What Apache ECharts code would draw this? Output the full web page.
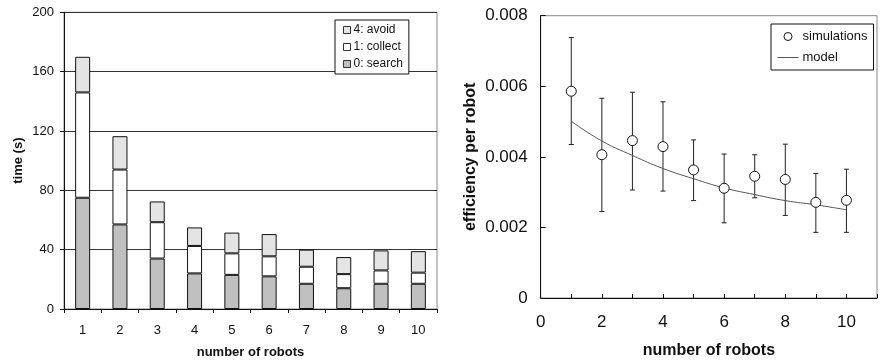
<!DOCTYPE html>
<html><head><meta charset="utf-8">
<script src="https://cdn.jsdelivr.net/npm/echarts@6/dist/echarts.min.js"></script>
<style>html,body{margin:0;padding:0;background:#fff}#c{width:880px;height:364px}</style>
</head><body><div id="c"></div>
<script>
// Left chart: stacked time per behaviour
const robots = ['1','2','3','4','5','6','7','8','9','10'];
const searchT = [75, 57, 34, 24, 23, 22, 17, 14, 17, 17];
const collectT = [71, 37, 24.5, 18.5, 14.5, 13.5, 11.5, 9.5, 9, 7.5];
const avoidT = [24, 22.5, 14, 12.5, 14, 15, 11.5, 11.5, 13.5, 14.5];
const leftTicks = [0, 40, 80, 120, 160, 200];

// Right chart: efficiency per robot
const simX = [1, 2, 3, 4, 5, 6, 7, 8, 9, 10];
const simMean = [0.00586, 0.00406, 0.00446, 0.00429, 0.00363, 0.00311, 0.00345, 0.00336, 0.00271, 0.00277];
const simLow = [0.00435, 0.00245, 0.00306, 0.00303, 0.00276, 0.00213, 0.00284, 0.00234, 0.00186, 0.00186];
const simHigh = [0.00738, 0.00566, 0.00583, 0.00556, 0.00448, 0.00408, 0.00406, 0.00436, 0.00353, 0.00365];
const modelVals = [0.00501, 0.00445, 0.00404, 0.00367, 0.00338, 0.00312, 0.00293, 0.00276, 0.00264, 0.00250];

const FONT = 'Liberation Sans, Arial, sans-serif';
const chart = echarts.init(document.getElementById('c'));
const barBorder = {borderColor: '#111', borderWidth: 1};

chart.setOption({
  animation: false,
  textStyle: {fontFamily: FONT},
  grid: [
    {left: 64, top: 12.3, width: 373, height: 297, show: true, borderColor: '#888', borderWidth: 1},
    {left: 540.7, top: 15.7, width: 344.6, height: 283.6, show: true, borderColor: '#888', borderWidth: 1}
  ],
  legend: [
    {
      data: [{name: '4: avoid'}, {name: '1: collect'}, {name: '0: search'}],
      icon: 'rect',
      orient: 'vertical', left: 335, top: 20,
      itemWidth: 7, itemHeight: 7, itemGap: 3,
      padding: [3, 6, 3, 8],
      backgroundColor: '#fff', borderColor: '#111', borderWidth: 1,
      itemStyle: {borderColor: '#333', borderWidth: 1},
      textStyle: {fontFamily: FONT, fontSize: 12, color: '#111', padding: [0, 0, 0, -2], lineHeight: 14}
    },
    {
      data: [
        {name: 'simulations', icon: 'circle', itemStyle: {color: '#fff', borderColor: '#111', borderWidth: 1}},
        {name: 'model', itemStyle: {opacity: 0}, lineStyle: {color: '#555', width: 1}}
      ],
      orient: 'vertical', left: 771, top: 24,
      itemWidth: 21, itemHeight: 8, itemGap: 6,
      padding: [5, 6, 5, 6],
      backgroundColor: '#fff', borderColor: '#111', borderWidth: 1,
      textStyle: {fontFamily: FONT, fontSize: 13, color: '#111', padding: [0, 0, 0, -1], lineHeight: 15}
    }
  ],
  xAxis: [
    {
      gridIndex: 0, type: 'category', data: robots, boundaryGap: true,
      axisLine: {lineStyle: {color: '#111', width: 1}},
      axisTick: {show: true, length: 4, interval: 0, lineStyle: {color: '#111'}},
      axisLabel: {fontSize: 13, color: '#111', margin: 15, fontFamily: FONT},
      name: 'number of robots', nameLocation: 'middle', nameGap: 37,
      nameTextStyle: {fontSize: 13, fontWeight: 'bold', color: '#111', fontFamily: FONT}
    },
    {
      gridIndex: 1, type: 'value', min: 0, max: 11, interval: 1,
      axisLine: {lineStyle: {color: '#111', width: 1}},
      axisTick: {show: true, inside: true, length: 4, lineStyle: {color: '#111'}},
      splitLine: {show: false},
      axisLabel: {fontSize: 17, color: '#111', margin: 16, fontFamily: FONT,
        formatter: v => (v % 2 === 0 && v <= 10) ? String(v) : ''},
      name: 'number of robots', nameLocation: 'middle', nameGap: 45,
      nameTextStyle: {fontSize: 16, fontWeight: 'bold', color: '#111', fontFamily: FONT}
    }
  ],
  yAxis: [
    {
      gridIndex: 0, type: 'value', min: leftTicks[0], max: leftTicks[leftTicks.length - 1], interval: 40,
      axisLine: {show: true, lineStyle: {color: '#111', width: 1}},
      axisTick: {show: true, length: 4, lineStyle: {color: '#111'}},
      splitLine: {show: true, lineStyle: {color: '#333', width: 1}},
      axisLabel: {fontSize: 13, color: '#111', margin: 10, fontFamily: FONT},
      name: 'time (s)', nameLocation: 'middle', nameGap: 39,
      nameTextStyle: {fontSize: 13, fontWeight: 'bold', color: '#111', fontFamily: FONT}
    },
    {
      gridIndex: 1, type: 'value', min: 0, max: 0.008, interval: 0.002,
      axisLine: {show: true, lineStyle: {color: '#111', width: 1}},
      axisTick: {show: true, inside: true, length: 5, lineStyle: {color: '#111'}},
      splitLine: {show: false},
      axisLabel: {fontSize: 17, color: '#111', margin: 13, fontFamily: FONT,
        formatter: v => v === 0 ? '0' : v.toFixed(3)},
      name: 'efficiency per robot', nameLocation: 'middle', nameGap: 62,
      nameTextStyle: {fontSize: 16, fontWeight: 'bold', color: '#111', fontFamily: FONT}
    }
  ],
  series: [
    {name: '0: search', type: 'bar', stack: 't', xAxisIndex: 0, yAxisIndex: 0, barWidth: 15,
      data: searchT, itemStyle: Object.assign({color: '#c0c0c0'}, barBorder)},
    {name: '1: collect', type: 'bar', stack: 't', xAxisIndex: 0, yAxisIndex: 0, barWidth: 15,
      data: collectT, itemStyle: Object.assign({color: '#ffffff'}, barBorder)},
    {name: '4: avoid', type: 'bar', stack: 't', xAxisIndex: 0, yAxisIndex: 0, barWidth: 15,
      data: avoidT, itemStyle: Object.assign({color: '#e4e4e4'}, barBorder)},
    {
      name: 'errors', type: 'custom', xAxisIndex: 1, yAxisIndex: 1, z: 3,
      data: simX.map((x, i) => [x, simLow[i], simHigh[i]]),
      renderItem: function (params, api) {
        const x = api.value(0);
        const lo = api.coord([x, api.value(1)]);
        const hi = api.coord([x, api.value(2)]);
        const w = 2.5;
        const st = {stroke: '#222', lineWidth: 1};
        return {type: 'group', children: [
          {type: 'line', shape: {x1: lo[0], y1: lo[1], x2: hi[0], y2: hi[1]}, style: st},
          {type: 'line', shape: {x1: lo[0] - w, y1: lo[1], x2: lo[0] + w, y2: lo[1]}, style: st},
          {type: 'line', shape: {x1: hi[0] - w, y1: hi[1], x2: hi[0] + w, y2: hi[1]}, style: st}
        ]};
      }
    },
    {name: 'model', type: 'line', xAxisIndex: 1, yAxisIndex: 1, smooth: true, symbol: 'none', z: 4,
      data: simX.map((x, i) => [x, modelVals[i]]),
      lineStyle: {color: '#555', width: 1}, itemStyle: {color: '#555'}},
    {name: 'simulations', type: 'scatter', xAxisIndex: 1, yAxisIndex: 1, symbol: 'circle', symbolSize: 10, z: 5,
      data: simX.map((x, i) => [x, simMean[i]]),
      itemStyle: {color: '#fff', borderColor: '#111', borderWidth: 1, opacity: 1}}
  ]
});
</script></body></html>
